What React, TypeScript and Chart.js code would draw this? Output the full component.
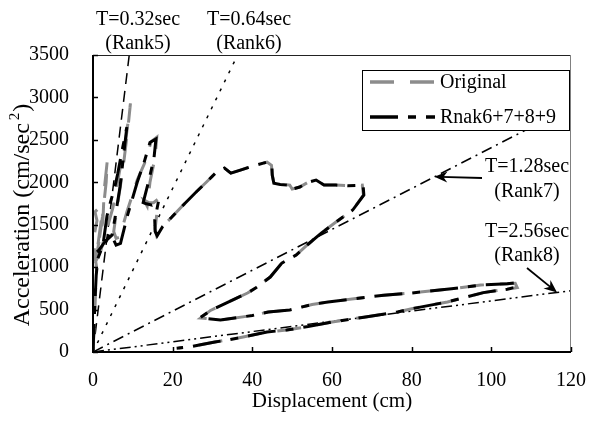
import React, { useEffect, useRef } from "react";
import { Chart, registerables } from "chart.js";

Chart.register(...registerables);

// ---------- data ----------
const xTickValues = [0, 20, 40, 60, 80, 100, 120];
const yTickValues = [0, 500, 1000, 1500, 2000, 2500, 3000, 3500];

const seriesNames = ["Original", "Rnak6+7+8+9"];

const originalDisp = [0, 0.3, 0.6, 0.9, 0.4, 0.2, 1.0, 0.5, 1.5, 2.2, 1.2, 0.6, 1.5, 2.5, 2.8, 3.6, 3.3, 2.4, 1.5, 1.0, 2.0, 3.5, 5.0, 6.7, 8.0, 9.4, 8.8, 7.5, 6.2, 5.2, 5.8, 6.7, 8.5, 11.1, 13.0, 14.6, 16.0, 15.6, 14.3, 13.6, 12.8, 14.0, 15.2, 16.3, 16.0, 15.6, 16.0, 17.5, 19.8, 22, 25.9, 28.5, 31, 33, 34.6, 37, 40, 43.7, 44.8, 45, 45.4, 47, 49.4, 50, 51.9, 54, 56, 58, 61, 64, 67.6, 67.9, 65.2, 61, 57.3, 54, 51, 47.4, 44.5, 41, 38.8, 33.4, 29.5, 27, 28.5, 32, 40, 44, 49.4, 55, 59, 66, 73, 80, 90, 97.3, 104, 106, 106.5, 104, 98, 89, 80, 76.5, 68, 60, 54, 48.6, 43.7, 38, 33.8, 30.6, 27, 24, 21.5];
const originalAcc = [0, 300, 650, 1000, 1150, 1350, 1550, 1650, 1700, 1600, 1250, 1050, 1300, 1550, 1900, 2260, 2000, 1600, 1300, 1100, 1200, 1450, 1700, 2140, 2415, 2930, 2650, 2150, 1750, 1420, 1340, 1355, 1650, 2026, 2230, 2480, 2530, 2300, 2000, 1720, 1790, 1760, 1760, 1800, 1620, 1450, 1370, 1480, 1590, 1700, 1885, 2003, 2120, 2167, 2108, 2144, 2190, 2238, 2200, 2085, 1990, 1975, 1967, 1920, 1944, 2000, 2026, 1967, 1967, 1960, 1967, 1850, 1673, 1531, 1400, 1270, 1143, 1048, 883, 760, 695, 577, 490, 400, 395, 377, 430, 471, 495, 560, 590, 630, 670, 695, 745, 789, 805, 810, 760, 740, 700, 590, 510, 471, 410, 353, 300, 259, 236, 180, 141, 118, 85, 59, 47];

const rnakDisp = [0, 0.2, 0.5, 0.8, 1.2, 2.5, 3.5, 4.4, 5.5, 6.2, 7.2, 8.5, 8.0, 6.8, 5.6, 4.8, 3.0, 1.5, 1.0, 2.5, 4.4, 5.8, 6.9, 8.6, 11.1, 12.8, 14.3, 15.8, 15.3, 13.8, 12.6, 13.2, 14.8, 16.5, 15.5, 15.6, 16.1, 17.5, 19.8, 22, 25.9, 28.5, 31, 33, 34.6, 37, 40, 43.7, 44.9, 45, 45.4, 47, 49.4, 50, 51.9, 54, 56, 58, 61, 64, 67.8, 68, 65.2, 61, 57.3, 54, 51, 47.4, 44.5, 41, 38.8, 33.4, 29.5, 26.8, 28.5, 32, 40, 44, 49.4, 55, 59, 66, 73, 80, 90, 97.3, 104, 106.3, 106.3, 104, 98, 89, 80, 76.5, 68, 60, 54, 48.6, 43.7, 38, 33.8, 30.6, 27, 24, 21];
const rnakAcc = [0, 250, 600, 900, 1100, 1260, 1600, 1770, 1950, 2100, 2350, 2650, 2450, 1950, 1600, 1380, 1300, 1200, 1180, 1230, 1400, 1260, 1280, 1600, 2000, 2230, 2470, 2510, 2280, 1980, 1760, 1750, 1730, 1790, 1550, 1420, 1370, 1480, 1590, 1700, 1885, 2003, 2120, 2167, 2108, 2144, 2190, 2238, 2200, 2085, 1990, 1975, 1967, 1920, 1944, 2000, 2026, 1967, 1967, 1960, 1967, 1850, 1673, 1531, 1400, 1270, 1143, 1048, 883, 760, 695, 577, 490, 400, 395, 377, 430, 471, 495, 560, 590, 630, 670, 695, 745, 789, 805, 815, 765, 740, 700, 590, 510, 471, 410, 353, 300, 259, 236, 180, 141, 118, 85, 59, 45];

const periodNames = ["T=0.32sec", "T=0.64sec", "T=1.28sec", "T=2.56sec"];
const rankNames = ["(Rank5)", "(Rank6)", "(Rank7)", "(Rank8)"];
const periodLineEndDisp = [9.1, 36.3, 120, 120];
const periodLineEndAcc = [3500, 3500, 2890, 723];
// points on the Rank7 / Rank8 lines where the arrows point
const arrowTipDisp = [85.7, 116.5];
const arrowTipAcc = [2065, 702];

// ---------- styles ----------
const FONT = "'Liberation Serif', 'Times New Roman', serif";
const periodDash = [[11, 7], [3, 7], [11, 5, 2, 5], [11, 4, 2, 4, 2, 4]];
const seriesColors = ["#8c8c8c", "#000000"];
const seriesDash = [[24, 16], [28, 10, 8, 10]];

const toPoints = (xs: number[], ys: number[]) => xs.map((x, i) => ({ x, y: ys[i] }));

const decorPlugin = {
  id: "decor",
  afterDraw(chart: any) {
    const { ctx, chartArea: ca, scales } = chart;
    const xs = scales.x;
    const ys = scales.y;
    ctx.save();
    ctx.setLineDash([]);

    // frame
    ctx.lineWidth = 1;
    ctx.strokeStyle = "#222";
    ctx.beginPath();
    ctx.moveTo(ca.left, ca.top + 0.5);
    ctx.lineTo(ca.right, ca.top + 0.5);
    ctx.stroke();
    ctx.strokeStyle = "#808080";
    ctx.beginPath();
    ctx.moveTo(ca.right - 0.5, ca.top);
    ctx.lineTo(ca.right - 0.5, ca.bottom);
    ctx.stroke();
    ctx.strokeStyle = "#000";
    ctx.lineWidth = 2;
    ctx.beginPath();
    ctx.moveTo(ca.left, ca.top);
    ctx.lineTo(ca.left, ca.bottom);
    ctx.lineTo(ca.right, ca.bottom);
    ctx.stroke();

    // inside ticks
    ctx.lineWidth = 1.5;
    xTickValues.forEach((v) => {
      const px = Math.round(xs.getPixelForValue(v)) + 0.5;
      ctx.beginPath();
      ctx.moveTo(px, ca.bottom);
      ctx.lineTo(px, ca.bottom - 5);
      ctx.stroke();
    });
    yTickValues.forEach((v) => {
      const py = Math.round(ys.getPixelForValue(v)) + 0.5;
      ctx.beginPath();
      ctx.moveTo(ca.left, py);
      ctx.lineTo(ca.left + 5, py);
      ctx.stroke();
    });

    // legend
    const lx = 362, ly = 70, lw = 207, lh = 60;
    ctx.fillStyle = "#fff";
    ctx.fillRect(lx, ly, lw, lh);
    ctx.strokeStyle = "#000";
    ctx.lineWidth = 1;
    ctx.strokeRect(lx + 0.5, ly + 0.5, lw, lh);
    const rowY = [82, 117];
    seriesNames.forEach((name, i) => {
      ctx.strokeStyle = seriesColors[i];
      ctx.lineWidth = 3.5;
      ctx.setLineDash(seriesDash[i]);
      ctx.beginPath();
      ctx.moveTo(370, rowY[i]);
      ctx.lineTo(435, rowY[i]);
      ctx.stroke();
      ctx.setLineDash([]);
      ctx.fillStyle = "#000";
      ctx.font = `20px ${FONT}`;
      ctx.textAlign = "left";
      ctx.textBaseline = "middle";
      ctx.fillText(name, 440, rowY[i] + 1);
    });

    // period annotations
    ctx.fillStyle = "#000";
    ctx.font = `20px ${FONT}`;
    ctx.textAlign = "center";
    ctx.textBaseline = "middle";
    const labelPos = [
      [138, 20, 44],
      [249, 20, 44],
      [527, 167, 192],
      [527, 232, 256],
    ];
    periodNames.forEach((t, i) => {
      const [cx, y1, y2] = labelPos[i];
      ctx.fillText(t, cx, y1);
      ctx.fillText(rankNames[i], cx, y2);
    });

    // arrows
    const arrowFrom = [[482, 178], [527, 268]];
    arrowTipDisp.forEach((d, i) => {
      const tx = xs.getPixelForValue(d);
      const ty = ys.getPixelForValue(arrowTipAcc[i]);
      const [fx, fy] = arrowFrom[i];
      const ang = Math.atan2(ty - fy, tx - fx);
      ctx.strokeStyle = "#000";
      ctx.lineWidth = 1.8;
      ctx.beginPath();
      ctx.moveTo(fx, fy);
      ctx.lineTo(tx - Math.cos(ang) * 6, ty - Math.sin(ang) * 6);
      ctx.stroke();
      const L = 13, W = 5.5;
      ctx.fillStyle = "#000";
      ctx.beginPath();
      ctx.moveTo(tx, ty);
      ctx.lineTo(tx - Math.cos(ang) * L - Math.sin(ang) * W, ty - Math.sin(ang) * L + Math.cos(ang) * W);
      ctx.lineTo(tx - Math.cos(ang) * (L - 4), ty - Math.sin(ang) * (L - 4));
      ctx.lineTo(tx - Math.cos(ang) * L + Math.sin(ang) * W, ty - Math.sin(ang) * L - Math.cos(ang) * W);
      ctx.closePath();
      ctx.fill();
    });

    // axis titles
    ctx.fillStyle = "#000";
    ctx.font = `21px ${FONT}`;
    ctx.textAlign = "center";
    ctx.textBaseline = "middle";
    ctx.fillText("Displacement (cm)", (ca.left + ca.right) / 2, 401);

    ctx.save();
    ctx.translate(23, 215);
    ctx.rotate(-Math.PI / 2);
    const main = "Acceleration (cm/sec";
    const sup = "2";
    const close = ")";
    ctx.font = `24px ${FONT}`;
    const w1 = ctx.measureText(main).width;
    const w3 = ctx.measureText(close).width;
    ctx.font = `15px ${FONT}`;
    const w2 = ctx.measureText(sup).width + 4;
    const total = w1 + w2 + w3;
    const x0 = -total / 2;
    ctx.textAlign = "left";
    ctx.font = `24px ${FONT}`;
    ctx.fillText(main, x0, 0);
    ctx.font = `15px ${FONT}`;
    ctx.fillText(sup, x0 + w1 + 3, -8);
    ctx.font = `24px ${FONT}`;
    ctx.fillText(close, x0 + w1 + w2, 0);
    ctx.restore();

    ctx.restore();
  },
};

export default function App() {
  const canvasRef = useRef<HTMLCanvasElement | null>(null);

  useEffect(() => {
    if (!canvasRef.current) return;
    const periodSets = periodNames.map((name, i) => ({
      label: name,
      data: [
        { x: 0, y: 0 },
        { x: periodLineEndDisp[i], y: periodLineEndAcc[i] },
      ],
      borderColor: "#000",
      borderWidth: 1.5,
      borderDash: periodDash[i],
      pointRadius: 0,
      showLine: true,
      fill: false,
      order: 3,
    }));
    const chart = new Chart(canvasRef.current, {
      type: "scatter",
      data: {
        datasets: [
          {
            label: seriesNames[1],
            data: toPoints(rnakDisp, rnakAcc),
            borderColor: seriesColors[1],
            borderWidth: 3,
            borderDash: seriesDash[1],
            pointRadius: 0,
            showLine: true,
            fill: false,
            order: 0,
          },
          {
            label: seriesNames[0],
            data: toPoints(originalDisp, originalAcc),
            borderColor: seriesColors[0],
            borderWidth: 3,
            borderDash: seriesDash[0],
            pointRadius: 0,
            showLine: true,
            fill: false,
            order: 1,
          },
          ...periodSets,
        ],
      },
      options: {
        responsive: false,
        animation: false,
        layout: { padding: { top: 55, right: 16, left: 0, bottom: 0 } },
        plugins: { legend: { display: false }, tooltip: { enabled: false } },
        scales: {
          x: {
            type: "linear",
            min: 0,
            max: 120,
            afterBuildTicks: (s: any) => {
              s.ticks = xTickValues.map((v) => ({ value: v }));
            },
            ticks: {
              font: { family: FONT, size: 20 },
              color: "#000",
              padding: 9,
              maxRotation: 0,
              autoSkip: false,
              callback: (v: any) => String(v),
            },
            grid: { display: false },
            border: { display: false },
            afterFit: (s: any) => {
              s.height = 69;
            },
          },
          y: {
            type: "linear",
            min: 0,
            max: 3500,
            afterBuildTicks: (s: any) => {
              s.ticks = yTickValues.map((v) => ({ value: v }));
            },
            ticks: {
              font: { family: FONT, size: 20 },
              color: "#000",
              padding: 16,
              autoSkip: false,
              callback: (v: any) => String(v),
            },
            grid: { display: false },
            border: { display: false },
            afterFit: (s: any) => {
              s.width = 93;
            },
          },
        },
      },
      plugins: [decorPlugin],
    } as any);
    return () => chart.destroy();
  }, []);

  return (
    <div style={{ position: "absolute", left: 0, top: 0, width: 595, height: 421, background: "#fff" }}>
      <canvas ref={canvasRef} width={595} height={421} style={{ display: "block" }} />
    </div>
  );
}
